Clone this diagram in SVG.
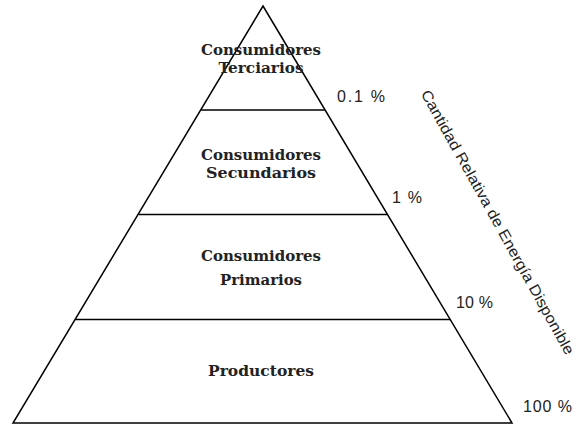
<svg xmlns="http://www.w3.org/2000/svg" width="578" height="425" viewBox="0 0 578 425">
<style>
.edge{fill:none;stroke:#000;stroke-width:1.5}
.lbl{font-family:"DejaVu Serif","Liberation Serif",serif;font-weight:bold;font-size:15px;fill:#222;text-anchor:middle}
.pct{font-family:"Liberation Sans",Arial,sans-serif;font-size:16px;fill:#222}
.axis{font-family:"Liberation Sans",Arial,sans-serif;font-size:15px;fill:#222;text-anchor:middle}
</style>
<rect width="578" height="425" fill="#fff"/>
<g id="connectors">
<polygon class="edge" points="263,6 512,423 13,423"/>
<line class="edge" x1="200.6" y1="110" x2="325" y2="110"/>
<line class="edge" x1="138.8" y1="214.5" x2="387.5" y2="214.5"/>
<line class="edge" x1="75.5" y1="319.5" x2="450.3" y2="319.5"/>
</g>
<g id="tertiary">
<text class="lbl" x="261" y="55" textLength="120" lengthAdjust="spacingAndGlyphs">Consumidores</text>
<text class="lbl" x="261" y="73" textLength="85" lengthAdjust="spacingAndGlyphs">Terciarios</text>
</g>
<g id="secondary">
<text class="lbl" x="261" y="160" textLength="120" lengthAdjust="spacingAndGlyphs">Consumidores</text>
<text class="lbl" x="261" y="178" textLength="110" lengthAdjust="spacingAndGlyphs">Secundarios</text>
</g>
<g id="primary">
<text class="lbl" x="261" y="261" textLength="120" lengthAdjust="spacingAndGlyphs">Consumidores</text>
<text class="lbl" x="261" y="285" textLength="82" lengthAdjust="spacingAndGlyphs">Primarios</text>
</g>
<g id="producers">
<text class="lbl" x="261" y="376" textLength="106" lengthAdjust="spacingAndGlyphs">Productores</text>
</g>
<g id="percentages">
<text class="pct" x="337" y="102" textLength="48" lengthAdjust="spacing">0.1 %</text>
<text class="pct" x="392" y="203" textLength="30" lengthAdjust="spacing">1 %</text>
<text class="pct" x="456" y="308" textLength="37" lengthAdjust="spacing">10 %</text>
<text class="pct" x="523" y="412" textLength="49" lengthAdjust="spacing">100 %</text>
</g>
<g id="axis-label">
<text class="axis" transform="translate(498,222) rotate(61)" dominant-baseline="central" textLength="300" lengthAdjust="spacingAndGlyphs">Cantidad Relativa de Energía Disponible</text>
</g>
</svg>
